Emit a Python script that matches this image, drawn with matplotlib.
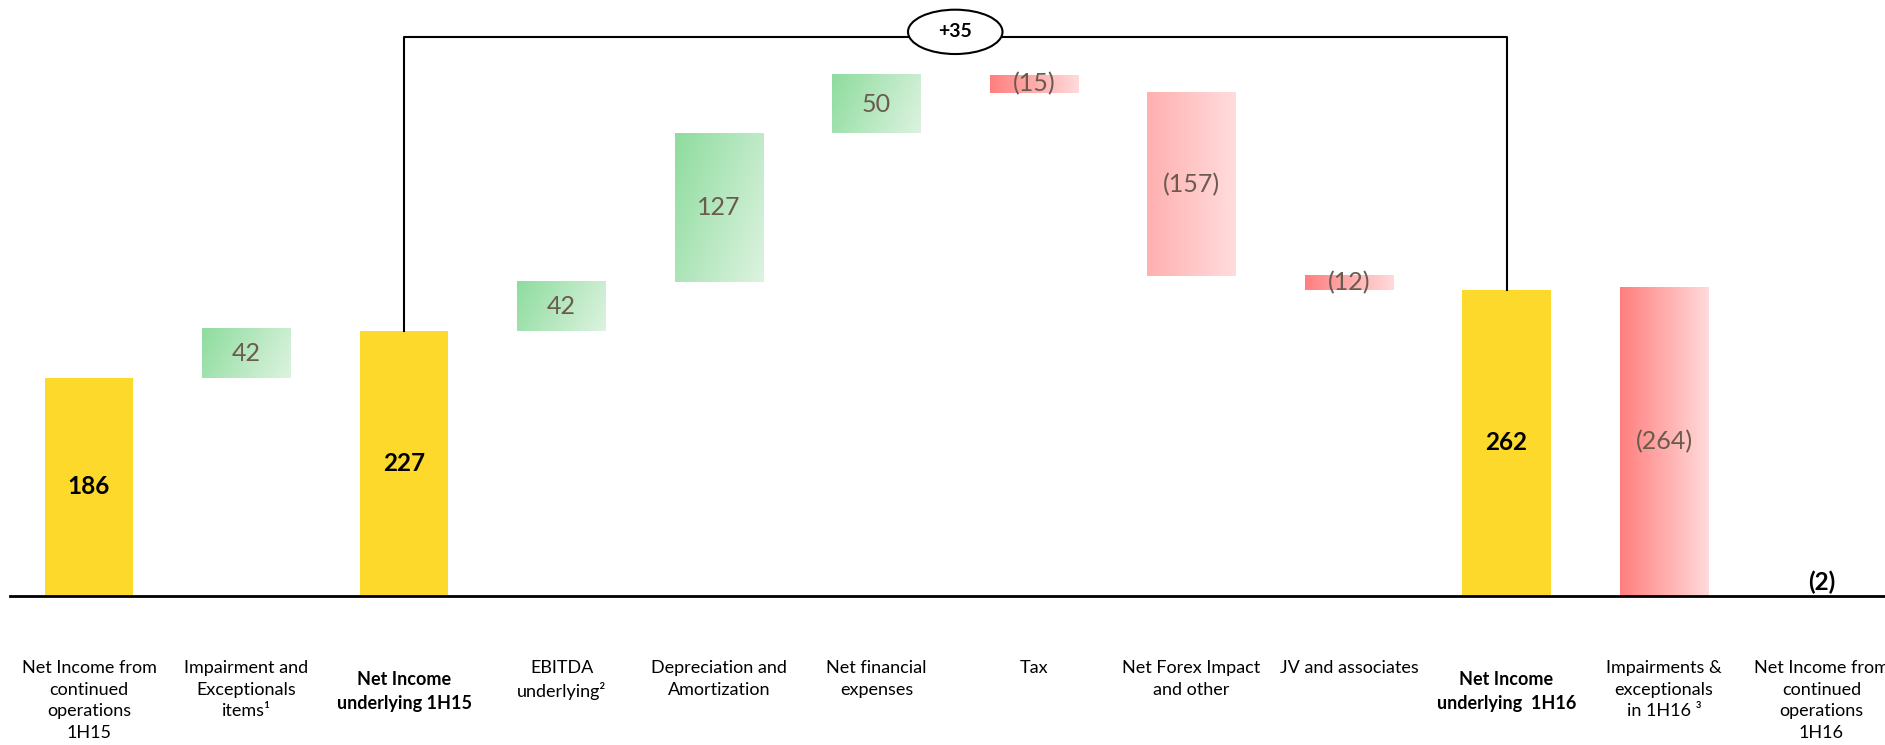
import matplotlib.pyplot as plt
import numpy as np
from matplotlib.patches import Ellipse
from matplotlib.colors import to_rgb

plt.rcParams['font.family'] = ['Lato', 'DejaVu Sans']

categories = ["Net Income from\ncontinued\noperations\n1H15",
              "Impairment and\nExceptionals\nitems\u00b9",
              "Net Income\nunderlying 1H15",
              "EBITDA\nunderlying\u00b2",
              "Depreciation and\nAmortization",
              "Net financial\nexpenses",
              "Tax",
              "Net Forex Impact\nand other",
              "JV and associates",
              "Net Income\nunderlying  1H16",
              "Impairments &\nexceptionals\nin 1H16 \u00b3",
              "Net Income from\ncontinued\noperations\n1H16"]
values = [186, 42, 227, 42, 127, 50, -15, -157, -12, 262, -264, -2]
is_total = [True, False, True, False, False, False, False, False, False, True, False, True]
bold_label = [False, False, True, False, False, False, False, False, False, True, False, False]

YELLOW = "#FDD92C"
VAL_GREY = "#6B5A4E"


def gradient_bar(ax, x0, x1, y0, y1, c0, c1, diag=0.0):
    """Fill a rectangle with a left->right (optionally diagonal) gradient."""
    n = 64
    u = np.linspace(0, 1, n)[None, :]
    v = np.linspace(0, 1, n)[:, None]  # 0 at top, 1 at bottom
    t = (u + diag * v) / (1 + diag)
    c0 = np.array(to_rgb(c0))
    c1 = np.array(to_rgb(c1))
    img = c0[None, None, :] * (1 - t[..., None]) + c1[None, None, :] * t[..., None]
    ax.imshow(img, extent=(x0, x1, y0, y1), aspect='auto', origin='upper',
              interpolation='bilinear', zorder=2)


fig = plt.figure(figsize=(18.85, 7.45), dpi=100)
ax = fig.add_axes([0, 0, 1, 1])
ax.set_axis_off()

w = 0.56
running = 0
for i, v in enumerate(values):
    if is_total[i]:
        lo, hi = min(0, v), max(0, v)
        running = v
        ax.bar(i, hi - lo, bottom=lo, width=w, color=YELLOW, zorder=2)
        ymid = (lo + hi) / 2 if v > 10 else 11
        txt = str(v) if v >= 0 else "({})".format(-v)
        ax.text(i, ymid, txt, ha='center', va='center', fontsize=17.5,
                fontweight='bold', color='black', zorder=4)
    else:
        a, b = running, running + v
        lo = max(min(a, b), 0)
        hi = lo + abs(v)
        running = b
        if v > 0:
            c0, c1 = "#8EDC9E", "#DDF3E0"
            diag = 0.6 if abs(v) > 60 else 0.3
        else:
            c0, c1 = ("#FFB0B0", "#FFDCDC") if abs(v) > 100 and i < 9 else ("#FF7F7F", "#FFDADA")
            diag = 0.0
        gradient_bar(ax, i - w / 2, i + w / 2, lo, hi, c0, c1, diag)
        txt = str(v) if v >= 0 else "({})".format(-v)
        ax.text(i, (lo + hi) / 2, txt, ha='center', va='center', fontsize=18,
                color=VAL_GREY, zorder=4)

# baseline
ax.plot([-0.5, 12], [0, 0], color='black', lw=2, zorder=3)

# bracket between the two underlying totals
i0, i1 = 2, 9
ytop = 479
ax.plot([i0, i0, i1, i1], [values[i0], ytop, ytop, values[i1]],
        color='black', lw=1.5, zorder=3)
xm = (i0 + i1) / 2
ax.add_patch(Ellipse((xm, ytop + 4), 0.6, 38, facecolor='white',
                     edgecolor='black', lw=1.5, zorder=4))
ax.text(xm, ytop + 4, "+{}".format(values[i1] - values[i0]), ha='center',
        va='center', fontsize=14, fontweight='bold', zorder=5)

# category labels
for i, lab in enumerate(categories):
    if bold_label[i]:
        ax.text(i, -65, lab, ha='center', va='top', fontsize=13,
                fontweight='bold', linespacing=1.45)
    else:
        ax.text(i, -55, lab, ha='center', va='top', fontsize=13,
                linespacing=1.45)

step = 157.5
ax.set_xlim(-89 / step, (1885 - 89) / step)
ax.set_ylim(-128.1, 510.3)

fig.savefig("out.png", dpi=100)
